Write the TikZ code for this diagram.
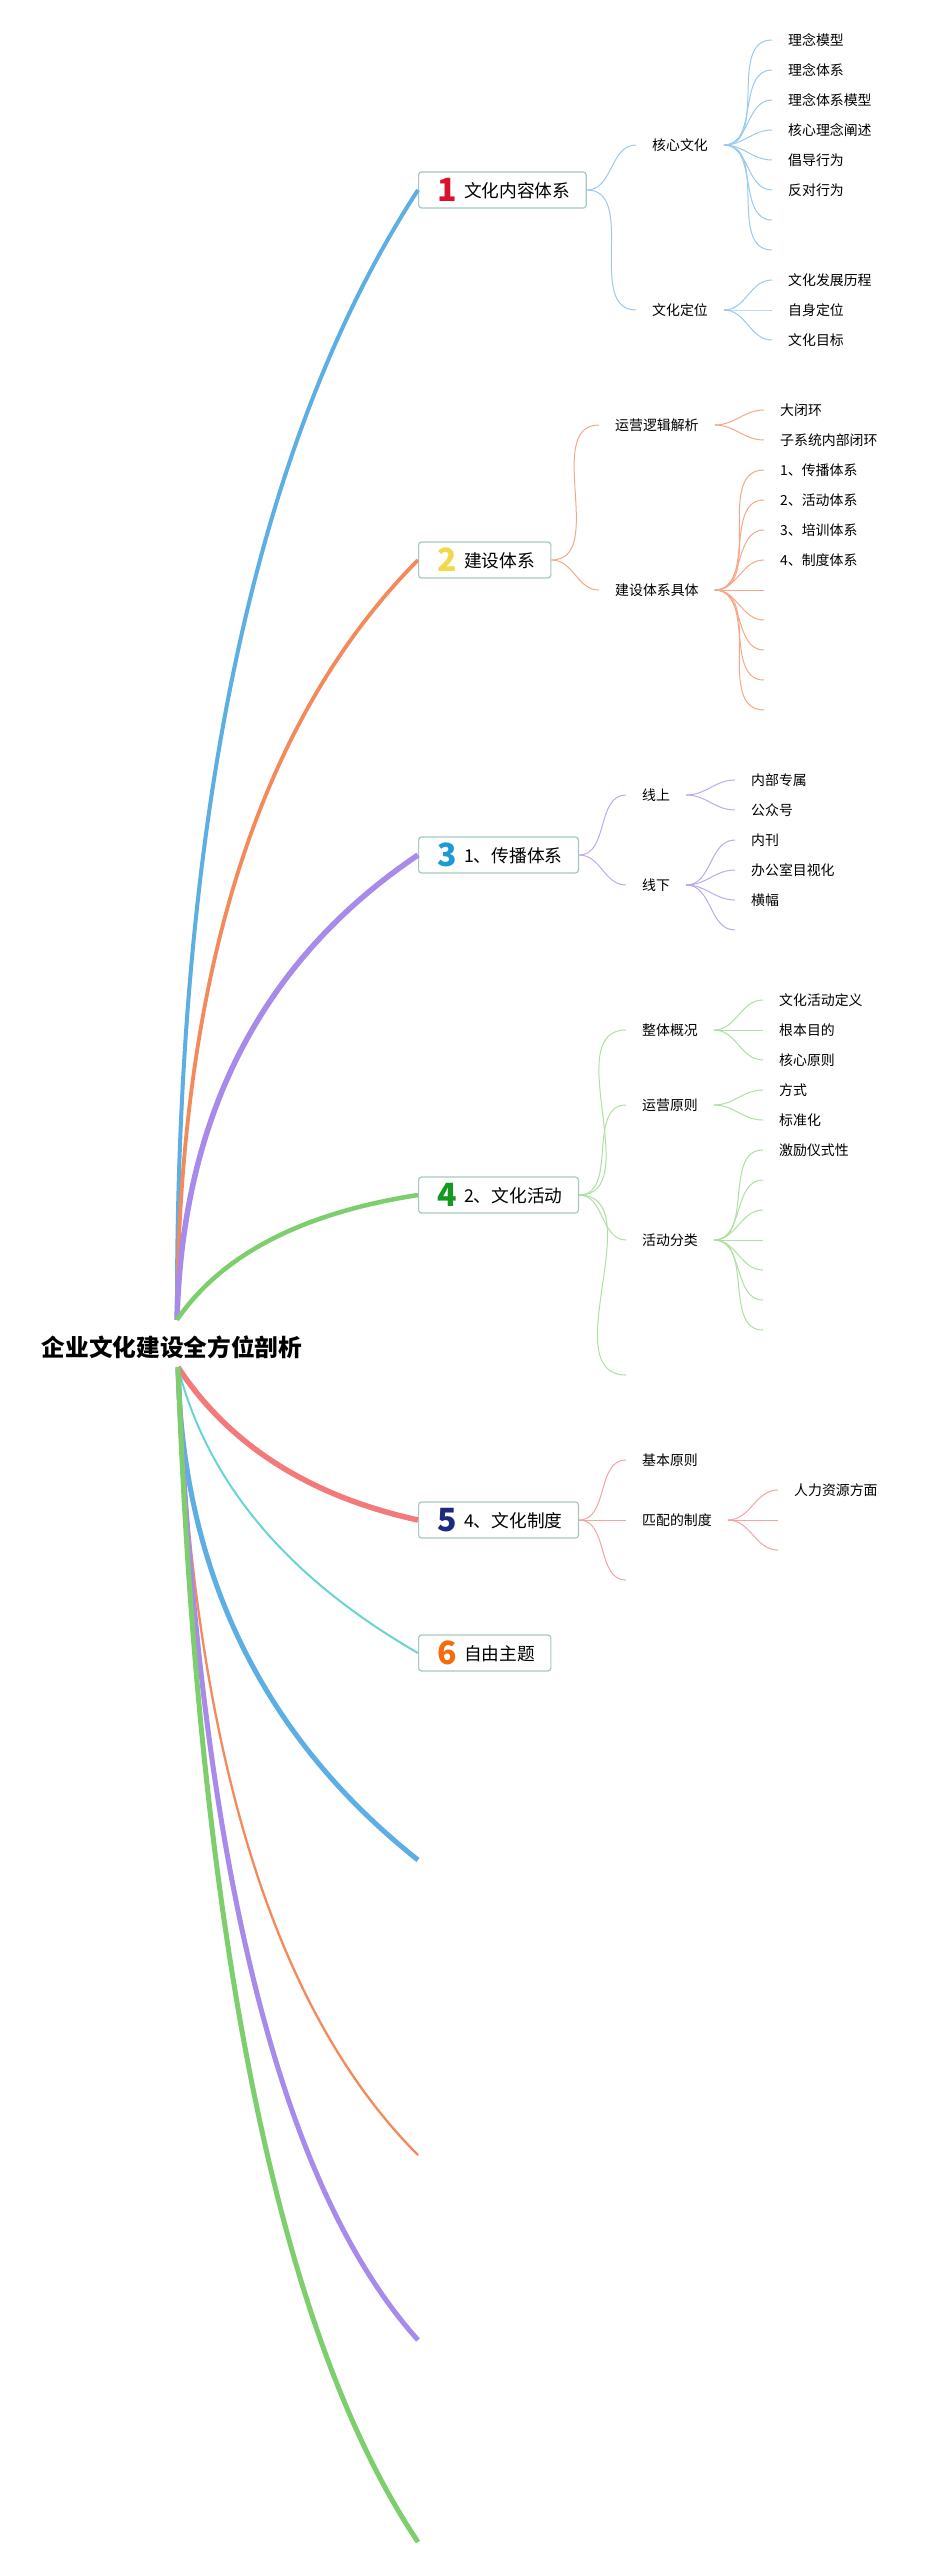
\documentclass[tikz,border=0pt]{standalone}
\usepackage{fontspec}
\setmainfont{Noto Sans CJK SC}
\usepackage{xcolor}
\usepackage{tikz}
\usetikzlibrary{calc}

\definecolor{mblue}{HTML}{5DAFE3}
\definecolor{morange}{HTML}{F28A5B}
\definecolor{mpurple}{HTML}{A78AEA}
\definecolor{mgreen}{HTML}{7DCF6E}
\definecolor{mred}{HTML}{F27A7A}
\definecolor{mcyan}{HTML}{68D4D4}
\definecolor{sblue}{HTML}{9ACBEC}
\definecolor{sorange}{HTML}{F5A888}
\definecolor{spurple}{HTML}{BDAAEC}
\definecolor{sgreen}{HTML}{AEE0A3}
\definecolor{sred}{HTML}{F5A3A3}
\definecolor{nred}{HTML}{D8132B}
\definecolor{nyellow}{HTML}{F3D84C}
\definecolor{nblue}{HTML}{1C9AD8}
\definecolor{ngreen}{HTML}{14991F}
\definecolor{nnavy}{HTML}{1E2A7E}
\definecolor{norange}{HTML}{F46C0C}
\definecolor{boxline}{HTML}{A6C8BF}

\newcommand\tnum[2]{\hspace{3pt}\raisebox{-4pt}{\fontsize{32pt}{32pt}\selectfont\bfseries\color{#1}#2}\hspace{7pt}}

\begin{document}
\begin{tikzpicture}[x=1pt,y=-1pt,
    rootnode/.style={inner xsep=0pt,inner ysep=0pt,text height=36pt,text depth=11pt,
      font=\fontsize{23.7pt}{26pt}\selectfont\bfseries},
    topic/.style={draw=boxline,line width=1.2pt,rounded corners=3pt,fill=white,anchor=west,
      minimum height=36pt,inner xsep=16pt,inner ysep=0pt,text height=15.4pt,text depth=0pt,
      font=\fontsize{17.7pt}{19pt}\selectfont},
    item/.style={anchor=west,inner xsep=16pt,inner ysep=0pt,text height=11.5pt,text depth=1pt,
      font=\fontsize{13.9pt}{16pt}\selectfont},
    sub1/.style={draw=sblue,line width=1pt},
    sub2/.style={draw=sorange,line width=1pt},
    sub3/.style={draw=spurple,line width=1pt},
    sub4/.style={draw=sgreen,line width=1pt},
    sub5/.style={draw=sred,line width=1pt}]

  \useasboundingbox (0,0) rectangle (935,2568);
  \fill[white] (0,0) rectangle (935,2568);

  % central topic
  \node[rootnode] (root) at (172,1343.5) {企业文化建设全方位剖析};
  \coordinate (rtop) at ([xshift=5pt]root.north);
  \coordinate (rbot) at ([xshift=6pt]root.south);

  % main topics
  \node[topic] (b1) at (418,190) {\tnum{nred}{1}文化内容体系};
  \node[topic] (b2) at (418,560) {\tnum{nyellow}{2}建设体系};
  \node[topic] (b3) at (418,855) {\tnum{nblue}{3}1、传播体系};
  \node[topic] (b4) at (418,1195) {\tnum{ngreen}{4}2、文化活动};
  \node[topic] (b5) at (418,1520) {\tnum{nnavy}{5}4、文化制度};
  \node[topic] (b6) at (418,1653) {\tnum{norange}{6}自由主题};

  % loose ends
  \coordinate (e1) at (418,1860);
  \coordinate (e2) at (418,2155);
  \coordinate (e3) at (418,2340);
  \coordinate (e4) at (418,2542);

  \foreach \col/\lw/\src/\cx/\cy/\tgt in {
      mblue/4/rtop/175/563/b1.west,
      morange/3.8/rtop/180/800/b2.west,
      mpurple/5.5/rtop/185/1012/b3.west,
      mgreen/4.5/rtop/244/1222/b4.west,
      mred/5.5/rbot/255/1484/b5.west,
      mcyan/2/rbot/222/1540/b6.west,
      mblue/5/rbot/185/1675/e1,
      morange/2.3/rbot/200/1937/e2,
      mpurple/5/rbot/210/2109/e3,
      mgreen/5/rbot/210/2232/e4}
    \draw[draw=\col,line width=\lw pt]
      (\src) .. controls ($(\src)!.667!(\cx,\cy)$) and ($(\tgt)!.667!(\cx,\cy)$) .. (\tgt);

  % 1 文化内容体系
  \node[item] (k1) at (636,145) {核心文化};
  \node[item] (k2) at (636,310) {文化定位};
  \foreach \n/\y/\t in {1/40/理念模型,2/70/理念体系,3/100/理念体系模型,4/130/核心理念阐述,
      5/160/倡导行为,6/190/反对行为,7/220/{},8/250/{}}
    \node[item] (k1\n) at (772,\y) {\t};
  \foreach \n/\y/\t in {1/280/文化发展历程,2/310/自身定位,3/340/文化目标}
    \node[item] (k2\n) at (772,\y) {\t};
  \foreach \a in {k1,k2}
    \draw[sub1] (b1.east) to[out=0,in=180] (\a.west);
  \foreach \n in {1,...,8}
    \draw[sub1] (k1.east) to[out=0,in=180] (k1\n.west);
  \foreach \n in {1,2,3}
    \draw[sub1] (k2.east) to[out=0,in=180] (k2\n.west);

  % 2 建设体系
  \node[item] (m1) at (599,425) {运营逻辑解析};
  \node[item] (m2) at (599,590) {建设体系具体};
  \node[item] (m11) at (764,410) {大闭环};
  \node[item] (m12) at (764,440) {子系统内部闭环};
  \foreach \n/\y/\t in {1/470/1、传播体系,2/500/2、活动体系,3/530/3、培训体系,4/560/4、制度体系,
      5/590/{},6/620/{},7/650/{},8/680/{},9/710/{}}
    \node[item] (m2\n) at (764,\y) {\t};
  \foreach \a in {m1,m2}
    \draw[sub2] (b2.east) to[out=0,in=180] (\a.west);
  \foreach \n in {1,2}
    \draw[sub2] (m1.east) to[out=0,in=180] (m1\n.west);
  \foreach \n in {1,...,9}
    \draw[sub2] (m2.east) to[out=0,in=180] (m2\n.west);

  % 3 传播体系
  \node[item] (n1) at (626,795) {线上};
  \node[item] (n2) at (626,885) {线下};
  \node[item] (n11) at (735,780) {内部专属};
  \node[item] (n12) at (735,810) {公众号};
  \foreach \n/\y/\t in {1/840/内刊,2/870/办公室目视化,3/900/横幅,4/930/{}}
    \node[item] (n2\n) at (735,\y) {\t};
  \foreach \a in {n1,n2}
    \draw[sub3] (b3.east) to[out=0,in=180] (\a.west);
  \foreach \n in {1,2}
    \draw[sub3] (n1.east) to[out=0,in=180] (n1\n.west);
  \foreach \n in {1,...,4}
    \draw[sub3] (n2.east) to[out=0,in=180] (n2\n.west);

  % 4 文化活动
  \node[item] (q1) at (626,1030) {整体概况};
  \node[item] (q2) at (626,1105) {运营原则};
  \node[item] (q3) at (626,1240) {活动分类};
  \node[item] (q4) at (626,1375) {};
  \foreach \n/\y/\t in {1/1000/文化活动定义,2/1030/根本目的,3/1060/核心原则}
    \node[item] (q1\n) at (763,\y) {\t};
  \foreach \n/\y/\t in {1/1090/方式,2/1120/标准化}
    \node[item] (q2\n) at (763,\y) {\t};
  \foreach \n/\y/\t in {1/1150/激励仪式性,2/1180/{},3/1210/{},4/1240/{},5/1270/{},6/1300/{},7/1330/{}}
    \node[item] (q3\n) at (763,\y) {\t};
  \foreach \a in {q1,q2,q3,q4}
    \draw[sub4] (b4.east) to[out=0,in=180] (\a.west);
  \foreach \n in {1,2,3}
    \draw[sub4] (q1.east) to[out=0,in=180] (q1\n.west);
  \foreach \n in {1,2}
    \draw[sub4] (q2.east) to[out=0,in=180] (q2\n.west);
  \foreach \n in {1,...,7}
    \draw[sub4] (q3.east) to[out=0,in=180] (q3\n.west);

  % 5 文化制度
  \node[item] (r1) at (626,1460) {基本原则};
  \node[item] (r2) at (626,1520) {匹配的制度};
  \node[item] (r3) at (626,1580) {};
  \foreach \n/\y/\t in {1/1490/人力资源方面,2/1520/{},3/1550/{}}
    \node[item] (r2\n) at (778,\y) {\t};
  \foreach \a in {r1,r2,r3}
    \draw[sub5] (b5.east) to[out=0,in=180] (\a.west);
  \foreach \n in {1,2,3}
    \draw[sub5] (r2.east) to[out=0,in=180] (r2\n.west);
\end{tikzpicture}
\end{document}
